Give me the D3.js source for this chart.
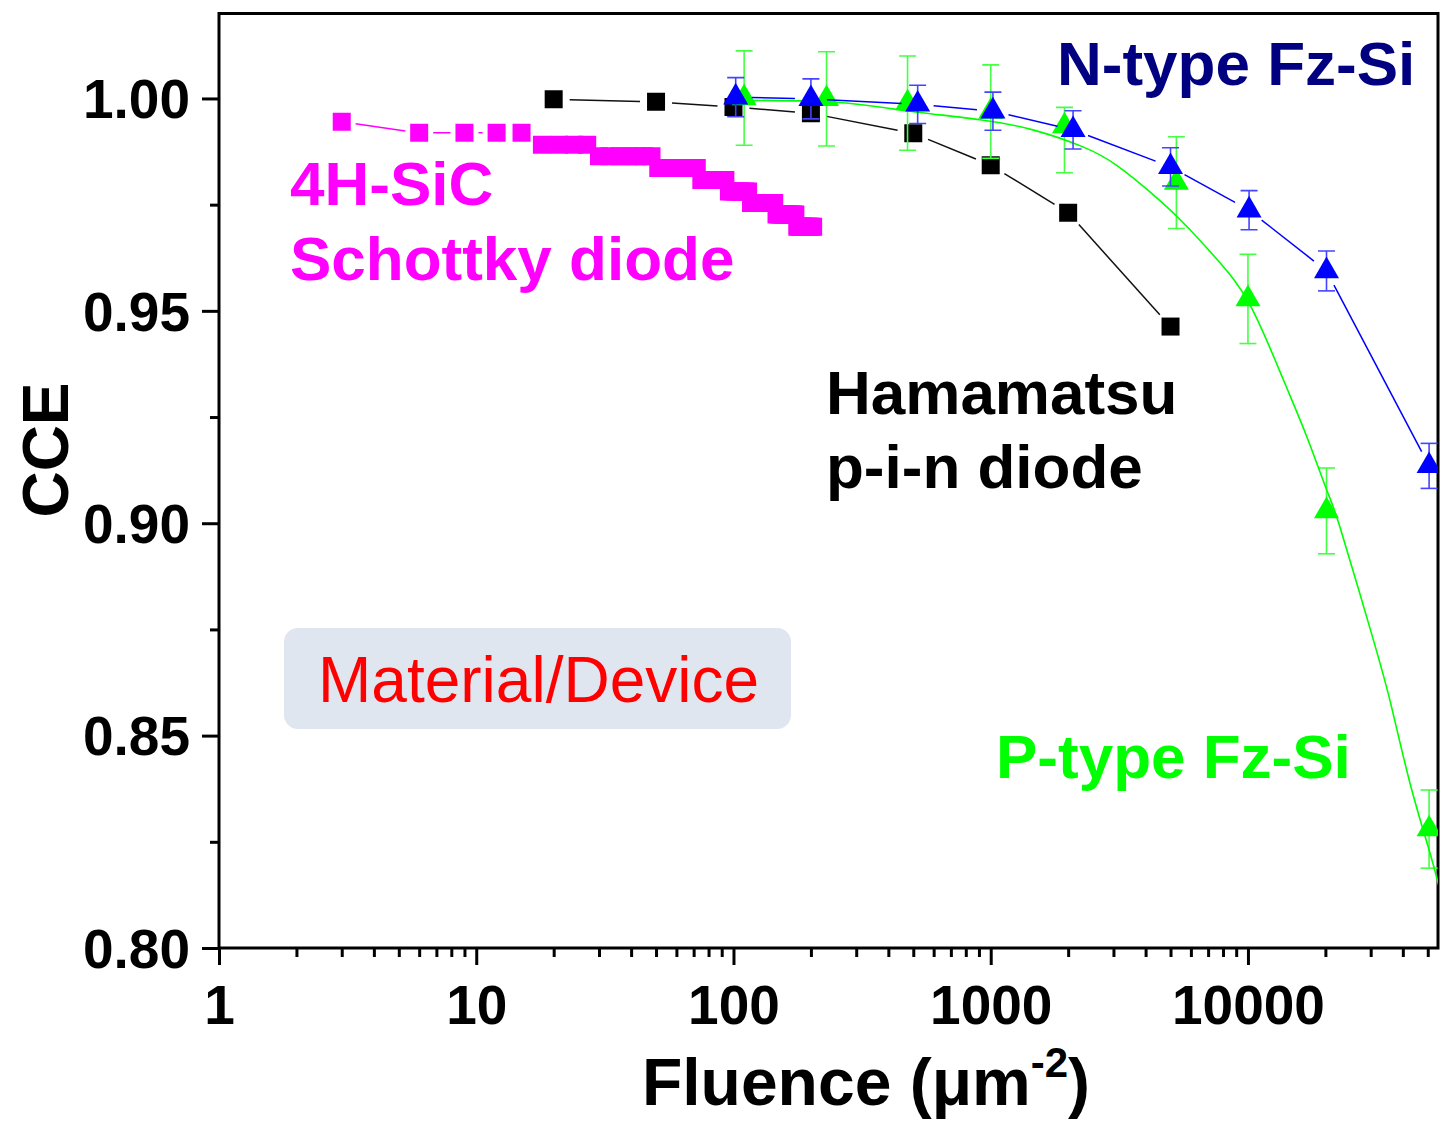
<!DOCTYPE html>
<html>
<head>
<meta charset="utf-8">
<script src="https://cdn.jsdelivr.net/npm/d3@7"></script>
<style>
  body { margin: 0; background: #fff; }
  svg { display: block; }
  text { font-family: "Liberation Sans", Arial, Helvetica, sans-serif; }
</style>
</head>
<body>
<svg id="chart" width="1441" height="1124"></svg>
<script>
// ---- data ----
const xTicks = [1, 10, 100, 1000, 10000]
const yTicks = [0.80, 0.85, 0.90, 0.95, 1.00]
const yMinorTicks = [0.825, 0.875, 0.925, 0.975]

// 4H-SiC Schottky diode (magenta squares)
const sicFluence = [3, 6, 9, 12, 15, 18, 21, 24, 27, 30, 33, 36, 39, 42, 45, 48,
  51, 54, 57, 60, 63, 66, 69, 72, 75, 78, 81, 84, 87, 90, 93, 96, 99, 102, 105,
  108, 111, 114, 117, 120, 123, 126, 129, 132, 135, 138, 141, 144, 147, 150, 153,
  156, 159, 162, 165, 168, 171, 174, 177, 180, 183, 186, 189, 192, 195, 198, 201, 204]
const sicCce = [0.9945, 0.9919, 0.9919, 0.9919, 0.9919, 0.9891, 0.9891, 0.9891, 0.9891,
  0.9864, 0.9864, 0.9864, 0.9864, 0.9864, 0.9864, 0.9864,
  0.9836, 0.9836, 0.9836, 0.9836, 0.9836, 0.9836, 0.9836, 0.9836,
  0.9808, 0.9808, 0.9808, 0.9808, 0.9808, 0.9808, 0.9808,
  0.9781, 0.9781, 0.9781, 0.9781, 0.9781, 0.9781, 0.9781,
  0.9754, 0.9754, 0.9754, 0.9754, 0.9754, 0.9754, 0.9754, 0.9754, 0.9754, 0.9754,
  0.9727, 0.9727, 0.9727, 0.9727, 0.9727, 0.9727, 0.9727, 0.9727, 0.9727, 0.9727,
  0.9698, 0.9698, 0.9698, 0.9698, 0.9698, 0.9698, 0.9698, 0.9698, 0.9698, 0.9698]

// Hamamatsu p-i-n diode (black squares)
const hamaFluence = [20, 50, 100, 200, 500, 1000, 2000, 5000]
const hamaCce = [0.9998, 0.9992, 0.9980, 0.9965, 0.9918, 0.9843, 0.9731, 0.9463]

// N-type Fz-Si (blue triangles)
const nFluence = [102, 200, 520, 1020, 2090, 5000, 10100, 20200, 50600]
const nCce = [1.0003, 0.9999, 0.9986, 0.9970, 0.9926, 0.9839, 0.9737, 0.9594, 0.9135]
const nErr = [0.0046, 0.0047, 0.0045, 0.0045, 0.0045, 0.0045, 0.0046, 0.0047, 0.0053]

// P-type Fz-Si (green triangles)
const pFluence = [110, 230, 475, 1000, 1935, 5270, 10000, 20200, 50600]
const pCce = [1.0001, 0.9999, 0.9989, 0.9969, 0.9935, 0.9802, 0.9528, 0.9029, 0.8280]
const pErrUp = [0.0111, 0.0111, 0.0111, 0.0110, 0.0044, 0.0108, 0.0105, 0.0101, 0.0092]
const pErrDown = [0.0111, 0.0111, 0.0111, 0.0110, 0.0110, 0.0108, 0.0105, 0.0101, 0.0092]

// P-type fitted curve, sampled from the figure
const fitFluence = [100, 250, 444, 908, 1459, 2284, 3097, 4159, 5590, 7586, 10180,
  13680, 16950, 20270, 22780, 29800, 35640, 42650, 51040, 55760]
const fitCce = [0.9996, 0.9991, 0.9973, 0.9950, 0.9926, 0.9886, 0.9842, 0.9780, 0.9708,
  0.9621, 0.9514, 0.9340, 0.9203, 0.9077, 0.8991, 0.8753, 0.8583, 0.8388, 0.8223, 0.8136]

// ---- layout ----
const plotLeft = 219
const plotRight = 1438
const plotTop = 13.5
const plotBottom = 948

const svg = d3.select('#chart')

const x = d3.scaleLog().domain([1, 54800]).range([plotLeft, plotRight])
const y = d3.scaleLinear().domain([0.80, 1.02]).range([plotBottom, plotTop])

svg.append('defs').append('clipPath').attr('id', 'plot-clip')
  .append('rect')
  .attr('x', plotLeft).attr('y', plotTop)
  .attr('width', plotRight - plotLeft).attr('height', plotBottom - plotTop)

// minor x ticks: 2..9 within each decade
const xMinor = []
for (let d = 1; d <= 10000; d *= 10) {
  for (let m = 2; m <= 9; m++) {
    if (d * m < 54800) xMinor.push(d * m)
  }
}

// x axis
const xMinorAxis = svg.append('g')
  .attr('transform', `translate(0,${plotBottom})`)
  .call(d3.axisBottom(x).tickValues(xMinor).tickSize(9).tickSizeOuter(0).tickFormat(''))
const xMajorAxis = svg.append('g')
  .attr('transform', `translate(0,${plotBottom})`)
  .call(d3.axisBottom(x).tickValues(xTicks).tickSize(17).tickSizeOuter(0).tickFormat(d3.format('d')))

// y axis
const yMinorAxis = svg.append('g')
  .attr('transform', `translate(${plotLeft},0)`)
  .call(d3.axisLeft(y).tickValues(yMinorTicks).tickSize(9).tickSizeOuter(0).tickFormat(''))
const yMajorAxis = svg.append('g')
  .attr('transform', `translate(${plotLeft},0)`)
  .call(d3.axisLeft(y).tickValues(yTicks).tickSize(17).tickSizeOuter(0).tickFormat(d3.format('.2f')))

;[xMinorAxis, xMajorAxis, yMinorAxis, yMajorAxis].forEach(g => {
  g.select('.domain').remove()
  g.selectAll('.tick line').attr('stroke', '#000').attr('stroke-width', 3)
})

xMajorAxis.selectAll('.tick text')
  .attr('fill', '#000')
  .style('font-size', '55px')
  .style('font-weight', 'bold')
  .attr('y', 37)
  .attr('dy', '0.71em')

yMajorAxis.selectAll('.tick text')
  .attr('fill', '#000')
  .style('font-size', '55px')
  .style('font-weight', 'bold')
  .attr('x', -29)
  .attr('dy', '0.35em')

// frame
svg.append('rect')
  .attr('x', plotLeft).attr('y', plotTop)
  .attr('width', plotRight - plotLeft).attr('height', plotBottom - plotTop)
  .attr('fill', 'none')
  .attr('stroke', '#000')
  .attr('stroke-width', 3)

// axis titles
svg.append('text')
  .attr('transform', 'translate(68,450) rotate(-90)')
  .attr('text-anchor', 'middle')
  .style('font-size', '64px')
  .style('font-weight', 'bold')
  .text('CCE')

const xTitle = svg.append('text')
  .attr('x', 866)
  .attr('y', 1105)
  .attr('text-anchor', 'middle')
  .style('font-size', '66px')
  .style('font-weight', 'bold')
xTitle.append('tspan').text('Fluence (\u03bcm')
xTitle.append('tspan').attr('dy', -28).style('font-size', '42px').text('-2')
xTitle.append('tspan').attr('dy', 28).text(')')

// annotation box
svg.append('rect')
  .attr('x', 284).attr('y', 628)
  .attr('width', 507).attr('height', 101)
  .attr('rx', 14)
  .attr('fill', '#dfe6f0')
svg.append('text')
  .attr('x', 318).attr('y', 702)
  .attr('fill', '#ff0000')
  .style('font-size', '64px')
  .text('Material/Device')

// series labels
const labels = [
  { text: 'N-type Fz-Si', x: 1057, y: 85, color: '#000080' },
  { text: '4H-SiC', x: 290, y: 205, color: '#ff00ff' },
  { text: 'Schottky diode', x: 290, y: 280, color: '#ff00ff' },
  { text: 'Hamamatsu', x: 826, y: 414, color: '#000' },
  { text: 'p-i-n diode', x: 826, y: 488, color: '#000' },
  { text: 'P-type Fz-Si', x: 996, y: 778, color: '#00ff00' }
]
svg.selectAll('.series-label')
  .data(labels)
  .join('text')
  .attr('class', 'series-label')
  .attr('x', d => d.x)
  .attr('y', d => d.y)
  .attr('fill', d => d.color)
  .style('font-size', '62px')
  .style('font-weight', 'bold')
  .text(d => d.text)

// ---- data layers ----
const plot = svg.append('g').attr('clip-path', 'url(#plot-clip)')

// connecting lines stop short of the markers, like the original
function gappedSegments (pts, gap) {
  const segs = []
  for (let i = 1; i < pts.length; i++) {
    const [x0, y0] = pts[i - 1]
    const [x1, y1] = pts[i]
    const len = Math.hypot(x1 - x0, y1 - y0)
    if (len <= 2 * gap) continue
    const ux = (x1 - x0) / len
    const uy = (y1 - y0) / len
    segs.push([x0 + ux * gap, y0 + uy * gap, x1 - ux * gap, y1 - uy * gap])
  }
  return segs
}

function drawLine (g, fl, cc, gap, color) {
  const pts = fl.map((f, i) => [x(f), y(cc[i])])
  g.selectAll(null)
    .data(gappedSegments(pts, gap))
    .join('line')
    .attr('x1', d => d[0]).attr('y1', d => d[1])
    .attr('x2', d => d[2]).attr('y2', d => d[3])
    .attr('stroke', color)
    .attr('stroke-width', 1.5)
}

function drawErrors (g, fl, cc, up, down, color) {
  const data = fl.map((f, i) => ({ f, hi: cc[i] + up[i], lo: cc[i] - down[i] }))
  const eg = g.append('g').attr('stroke', color).attr('stroke-width', 1.6)
  eg.selectAll(null).data(data).join('line')
    .attr('x1', d => x(d.f)).attr('x2', d => x(d.f))
    .attr('y1', d => y(d.hi)).attr('y2', d => y(d.lo))
  eg.selectAll(null).data(data).join('line')
    .attr('x1', d => x(d.f) - 8.5).attr('x2', d => x(d.f) + 8.5)
    .attr('y1', d => y(d.hi)).attr('y2', d => y(d.hi))
  eg.selectAll(null).data(data).join('line')
    .attr('x1', d => x(d.f) - 8.5).attr('x2', d => x(d.f) + 8.5)
    .attr('y1', d => y(d.lo)).attr('y2', d => y(d.lo))
}

function drawMarkers (g, fl, cc, type, size, color) {
  const sym = d3.symbol().type(type).size(size)
  g.selectAll(null)
    .data(fl.map((f, i) => [f, cc[i]]))
    .join('path')
    .attr('transform', d => `translate(${x(d[0])},${y(d[1])})`)
    .attr('d', sym)
    .attr('fill', color)
}

const triSize = Math.sqrt(3) / 4 * 25 * 25

// Hamamatsu
const gHama = plot.append('g')
drawLine(gHama, hamaFluence, hamaCce, 16, '#111')
drawMarkers(gHama, hamaFluence, hamaCce, d3.symbolSquare, 18 * 18, '#000')

// 4H-SiC
const gSic = plot.append('g')
drawLine(gSic, sicFluence, sicCce, 14, '#ff00ff')
drawMarkers(gSic, sicFluence, sicCce, d3.symbolSquare, 18 * 18, '#ff00ff')

// P-type: error bars, fit curve, triangles
const gP = plot.append('g')
drawErrors(gP, pFluence, pCce, pErrUp, pErrDown, '#44ff44')
gP.append('path')
  .datum(fitFluence.map((f, i) => [f, fitCce[i]]))
  .attr('fill', 'none')
  .attr('stroke', '#00ff00')
  .attr('stroke-width', 1.6)
  .attr('d', d3.line().x(d => x(d[0])).y(d => y(d[1])).curve(d3.curveNatural))
drawMarkers(gP, pFluence, pCce, d3.symbolTriangle, triSize, '#00ff00')

// N-type: error bars, line, triangles
const gN = plot.append('g')
drawErrors(gN, nFluence, nCce, nErr, nErr, '#4444ff')
drawLine(gN, nFluence, nCce, 16, '#0000ff')
drawMarkers(gN, nFluence, nCce, d3.symbolTriangle, triSize, '#0000ff')
</script>
</body>
</html>
